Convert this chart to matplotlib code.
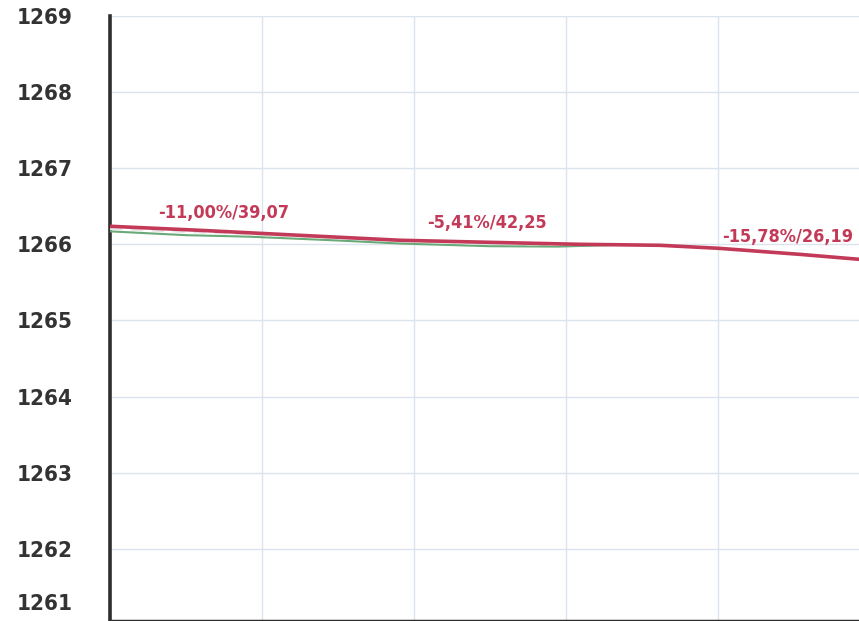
import matplotlib
matplotlib.use("Agg")
import matplotlib.pyplot as plt

# y axis ticks
y_ticks = [1262, 1263, 1264, 1265, 1266, 1267, 1268, 1269]
y_bottom_label = 1261

# main (red) line
red_x = [0, 0.59, 1.25, 1.91, 2.5, 3.09, 3.62, 4.01, 4.54, 4.93]
red_y = [1266.237, 1266.184, 1266.118, 1266.053, 1266.026, 1266.0, 1265.987, 1265.947, 1265.868, 1265.803]

# green line under it
green_x = [0, 0.5, 0.92, 1.5, 1.91, 2.5, 2.95, 3.3]
green_y = [1266.17, 1266.12, 1266.10, 1266.05, 1266.01, 1265.975, 1265.97, 1265.99]

# faint dashed line
dash_x = [0, 0.8, 1.6, 2.4, 3.1]
dash_y = [1266.20, 1266.14, 1266.07, 1266.01, 1265.99]

# annotations
ann_text = ["-11,00%/39,07", "-5,41%/42,25", "-15,78%/26,19"]
ann_x = [0.32, 2.09, 4.03]
ann_y = [1266.41, 1266.28, 1266.09]

red = "#c33a58"

fig = plt.figure(figsize=(8.59, 6.21), dpi=100)
ax = fig.add_axes([110 / 859, 0, 749 / 859, 605 / 621])

ax.plot(green_x, green_y, color="#6aaa78", lw=1.5, zorder=3)
ax.plot(dash_x, dash_y, color="#e6e6e6", lw=1.5, ls=(0, (6, 4)), zorder=4)
ax.plot(red_x, red_y, color=red, lw=2.6, zorder=5)

for t, x, y in zip(ann_text, ann_x, ann_y):
    ax.text(x, y, t, color=red, fontsize=13, family="DejaVu Sans",
            fontstretch="condensed", fontweight="bold", ha="left", va="center", zorder=6)

ax.set_xlim(0, 4.93)
ax.set_ylim(1261.05, 1269)
ax.set_xticks([1, 2, 3, 4])
ax.set_xticklabels([])
ax.set_yticks(y_ticks)
ax.set_yticklabels([str(v) for v in y_ticks], fontsize=16, color="#333333",
                   family="DejaVu Sans", fontstretch="condensed", fontweight="bold")
ax.tick_params(axis="both", length=0)
ax.tick_params(axis="y", pad=27)
ax.grid(True, color="#dbe3ee", lw=1.0)
ax.set_axisbelow(True)

ax.annotate(str(y_bottom_label), xy=(0, 1261.05), xycoords=("axes fraction", "data"),
            xytext=(-27, 12), textcoords="offset points", ha="right", va="center",
            fontsize=16, color="#333333", family="DejaVu Sans",
            fontstretch="condensed", fontweight="bold", annotation_clip=False)

for s in ["top", "right"]:
    ax.spines[s].set_visible(False)
ax.spines["left"].set_color("#2e2e2e")
ax.spines["left"].set_linewidth(2.6)
ax.spines["bottom"].set_color("#2e2e2e")
ax.spines["bottom"].set_linewidth(2.5)

fig.savefig("out.png", dpi=100)
